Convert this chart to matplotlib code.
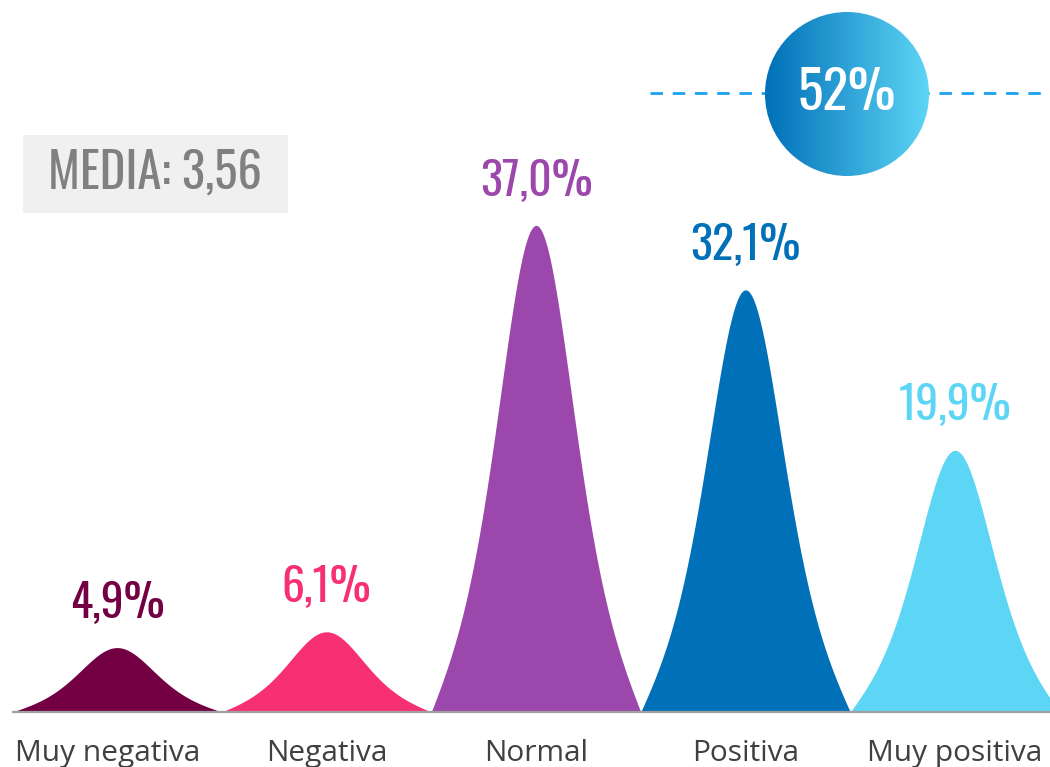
import numpy as np
import matplotlib.pyplot as plt
from matplotlib.patches import Circle, Rectangle
from matplotlib.colors import LinearSegmentedColormap

# Valoración de la experiencia (% de respuestas)
categorias = ["Muy negativa", "Negativa", "Normal", "Positiva", "Muy positiva"]
valores = [4.9, 6.1, 37.0, 32.1, 19.9]
etiquetas = ["4,9%", "6,1%", "37,0%", "32,1%", "19,9%"]
colores = ["#730042", "#f73074", "#9b47ab", "#0070b8", "#5dd5f5"]
media = "MEDIA: 3,56"
total_positivas = "52%"

condensada = ["Oswald", "Roboto Condensed", "DejaVu Sans"]
normal = ["Open Sans", "DejaVu Sans"]

fig = plt.figure(figsize=(10.5, 7.67), dpi=100)
ax = fig.add_axes([0, 0, 1, 1])
ax.set_xlim(-0.5585, 4.4535)
ax.set_ylim(-4.18, 54.14)
ax.axis("off")

# campana tipo sech^2 con cola recortada para llegar a cero en los bordes
t = np.linspace(-0.5, 0.5, 600)
s = 0.25
sech2 = 1 / np.cosh(t / s) ** 2
borde = 1 / np.cosh(0.5 / s) ** 2
campana = np.clip(sech2 - borde * (np.abs(t) / 0.5) ** 4, 0, None)

# desplazamiento horizontal (pt) de cada rótulo de categoría
desp_x = [-7, 0, 0, 0, 0]

for i, (v, et, c) in enumerate(zip(valores, etiquetas, colores)):
    ax.fill_between(i + t, 0, v * campana, color=c, lw=0, zorder=2)
    ax.annotate(et, (i, v), xytext=(0, 32), textcoords="offset points",
                ha="center", va="center", fontsize=33, color=c,
                family=condensada)
    ax.annotate(categorias[i], (i, 0), xytext=(desp_x[i], -35),
                textcoords="offset points", ha="center", va="baseline",
                fontsize=21.5, color="#404040", family=normal)

# línea base
ax.plot([-0.5, 4.4535], [0, 0], color="#a0a0a0", lw=1.6, zorder=3,
        solid_capstyle="butt")

# recuadro de la media
ax.add_patch(Rectangle((23 / 1050, 1 - 213 / 767), 265 / 1050, 78 / 767,
                       transform=ax.transAxes, facecolor="#f0f0f0",
                       edgecolor="none", zorder=1))
ax.text(155 / 1050, 1 - 173 / 767, media, transform=ax.transAxes,
        ha="center", va="center", fontsize=35, color="#808080",
        family=condensada)

# línea discontinua de positivas
ax.plot([650 / 1050, 1045 / 1050], [1 - 93 / 767, 1 - 93 / 767],
        transform=ax.transAxes, color="#1ba1f2", lw=2,
        dashes=(4.5, 3.5), zorder=1)

# círculo con degradado
cax = fig.add_axes([765 / 1050, (767 - 176) / 767, 164 / 1050, 164 / 767])
cax.set_xlim(0, 1)
cax.set_ylim(0, 1)
cax.axis("off")
grad = np.linspace(0, 1, 256).reshape(1, -1)
cmap = LinearSegmentedColormap.from_list("azul", ["#0070b8", "#5dd5f5"])
img = cax.imshow(grad, extent=(0, 1, 0, 1), cmap=cmap, aspect="auto")
circ = Circle((0.5, 0.5), 0.5, transform=cax.transData, facecolor="none",
              edgecolor="none")
cax.add_patch(circ)
img.set_clip_path(circ)
cax.text(0.5, 0.5, total_positivas, ha="center", va="center", fontsize=38.5,
         color="white", family=condensada)

fig.savefig("out.png", dpi=100)
